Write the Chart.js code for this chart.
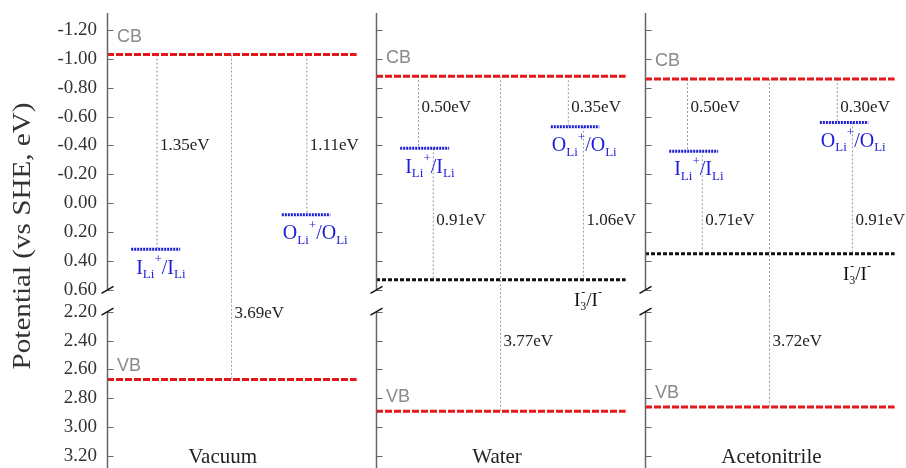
<!DOCTYPE html>
<html><head><meta charset="utf-8">
<script src="https://cdn.jsdelivr.net/npm/chart.js@4.4.1/dist/chart.umd.min.js"></script>
<style>
html,body{margin:0;padding:0;background:#fff;overflow:hidden;width:906px;height:468px}
#wrap{position:absolute;left:0;top:0;width:920px;height:481px}
</style></head><body>
<div id="wrap"><canvas id="c" width="920" height="481"></canvas></div>
<script>
// ---------------- data ----------------
const panels = ['Vacuum', 'Water', 'Acetonitrile'];
const cbLevels = [-1.03, -0.88, -0.86];        // conduction band (eV vs SHE)
const vbLevels = [2.67, 2.89, 2.86];           // valence band
const iLevels = [0.32, -0.38, -0.36];          // I_Li+/I_Li
const oLevels = [0.08, -0.53, -0.56];          // O_Li+/O_Li
const redoxLevels = [null, 0.53, 0.35];        // I3-/I-
const gapCbVb = ['3.69eV', '3.77eV', '3.72eV'];
const gapCbI = ['1.35eV', '0.50eV', '0.50eV'];
const gapCbO = ['1.11eV', '0.35eV', '0.30eV'];
const gapIRedox = [null, '0.91eV', '0.71eV'];
const gapORedox = [null, '1.06eV', '0.91eV'];
const upperTickValues = [-1.2, -1.0, -0.8, -0.6, -0.4, -0.2, 0.0, 0.2, 0.4, 0.6];
const lowerTickValues = [2.2, 2.4, 2.6, 2.8, 3.0, 3.2];
const axisTitle = 'Potential (vs SHE, eV)';

// ---------------- layout (positions / styles) ----------------
const TOP_MIN = -1.318, TOP_MAX = 0.676;   // upper axis section
const BOT_MIN = 2.124, BOT_MAX = 3.29;     // lower axis section
const BREAK_TOP = 0.6, BREAK_BOT = 2.2;
const PW = 10;                              // x units per panel
const L = {lineEnd: 9.28, iSeg: [0.9, 2.72], oSeg: [6.5, 8.3], vGap: 4.63, redoxLabel: 7.36};
const vCbI = [1.86, 1.58, 1.58], vIR = [null, 2.13, 2.13];
const vCbO = [7.43, 7.15, 7.15], vOR = [null, 7.71, 7.71];
const labelRow1 = [-0.40, -0.66, -0.66], labelRow2 = [null, 0.12, 0.12], labelGapY = [2.21, 2.41, 2.41];
const titleX = [4.3, 4.5, 4.7];
const RED = '#e5171c', BLUE = '#1c1cd6', BLACK = '#111', GRAY = '#9a9a9a', AXIS = '#666';
const SERIF = '"Liberation Serif", "DejaVu Serif", serif';
const SANS = '"Liberation Sans", Arial, sans-serif';

function seg(x0, x1, y0, y1, axis, color, width, dash, order) {
  return {data: [{x: x0, y: y0}, {x: x1, y: y1}], yAxisID: axis, borderColor: color,
    borderWidth: width, borderDash: dash, pointRadius: 0, fill: false, tension: 0, order: order};
}

const datasets = [];
panels.forEach((name, p) => {
  const o = p * PW;
  const cb = cbLevels[p], vb = vbLevels[p], iL = iLevels[p], oL = oLevels[p], rd = redoxLevels[p];
  // vertical gap markers
  datasets.push(seg(o + vCbI[p], o + vCbI[p], cb, iL, 'yTop', GRAY, 1, [2, 2], 3));
  datasets.push(seg(o + vCbO[p], o + vCbO[p], cb, oL, 'yTop', GRAY, 1, [2, 2], 3));
  datasets.push(seg(o + L.vGap, o + L.vGap, cb, TOP_MAX, 'yTop', GRAY, 1, [2, 2], 3));
  datasets.push(seg(o + L.vGap, o + L.vGap, BOT_MIN, vb, 'yBot', GRAY, 1, [2, 2], 3));
  if (rd !== null) {
    datasets.push(seg(o + vIR[p], o + vIR[p], iL, rd, 'yTop', GRAY, 1, [2, 2], 3));
    datasets.push(seg(o + vOR[p], o + vOR[p], oL, rd, 'yTop', GRAY, 1, [2, 2], 3));
  }
  // levels
  datasets.push(seg(o, o + L.lineEnd, cb, cb, 'yTop', RED, 3, [7, 2], 1));
  datasets.push(seg(o, o + L.lineEnd, vb, vb, 'yBot', RED, 3, [7, 2], 1));
  datasets.push(seg(o + L.iSeg[0], o + L.iSeg[1], iL, iL, 'yTop', BLUE, 3, [2, 1], 1));
  datasets.push(seg(o + L.oSeg[0], o + L.oSeg[1], oL, oL, 'yTop', BLUE, 3, [2, 1], 1));
  if (rd !== null) datasets.push(seg(o, o + L.lineEnd, rd, rd, 'yTop', BLACK, 3, [4, 2], 1));
});

function rich(ctx, parts, x, y, size, color) {
  ctx.save();
  ctx.fillStyle = color; ctx.textAlign = 'left'; ctx.textBaseline = 'middle';
  const small = Math.round(size * 0.65);
  let cx = x;
  parts.forEach(([t, k]) => {
    if (k === 'm') { ctx.font = size + 'px ' + SERIF; ctx.fillText(t, cx, y); cx += ctx.measureText(t).width; }
    else if (k === 'b') { ctx.font = small + 'px ' + SERIF; ctx.fillText(t, cx, y + size * 0.32); cx += ctx.measureText(t).width; }
    else if (k === 'p') { ctx.font = small + 'px ' + SERIF; ctx.fillText(t, cx, y - size * 0.42); cx += ctx.measureText(t).width; }
    else if (k === 'bp') {
      ctx.font = small + 'px ' + SERIF;
      ctx.fillText(t[0], cx, y + size * 0.32); ctx.fillText(t[1], cx + 1, y - size * 0.42);
      cx += Math.max(ctx.measureText(t[0]).width, ctx.measureText(t[1]).width);
    }
  });
  ctx.restore();
}

const decor = {
  id: 'decor',
  afterDatasetsDraw(chart) {
    const {ctx, chartArea: ca} = chart;
    const x = chart.scales.x, yT = chart.scales.yTop, yB = chart.scales.yBot;
    ctx.save();
    panels.forEach((n, p) => {
      const ax = Math.round(x.getPixelForValue(p * PW)) + 0.5;
      const b1 = yT.getPixelForValue(BREAK_TOP), b2 = yB.getPixelForValue(BREAK_BOT);
      ctx.strokeStyle = AXIS; ctx.lineWidth = 1.5; ctx.setLineDash([]);
      ctx.beginPath();
      ctx.moveTo(ax, ca.top); ctx.lineTo(ax, b1);
      ctx.moveTo(ax, b2); ctx.lineTo(ax, ca.bottom + 5);
      ctx.stroke();
      ctx.lineWidth = 1.2;
      ctx.beginPath();
      upperTickValues.forEach(v => { const yy = Math.round(yT.getPixelForValue(v)) + 0.5; ctx.moveTo(ax, yy); ctx.lineTo(ax + 6, yy); });
      lowerTickValues.forEach(v => { const yy = Math.round(yB.getPixelForValue(v)) + 0.5; ctx.moveTo(ax, yy); ctx.lineTo(ax + 6, yy); });
      ctx.stroke();
      ctx.strokeStyle = '#111'; ctx.lineWidth = 1.5;
      ctx.beginPath();
      [b1, b2].forEach(yy => { ctx.moveTo(ax - 6, yy + 3.5); ctx.lineTo(ax + 6, yy - 3.5); });
      ctx.stroke();
    });
    const txt = (s, px, py, font, color, align) => {
      ctx.font = font; ctx.fillStyle = color; ctx.textAlign = align || 'left'; ctx.textBaseline = 'middle';
      ctx.fillText(s, px, py);
    };
    const evFont = '17px ' + SERIF;
    panels.forEach((name, p) => {
      const o = p * PW;
      const px = v => x.getPixelForValue(o + v);
      txt('CB', px(0) + 10, yT.getPixelForValue(cbLevels[p]) - 18, '18px ' + SANS, '#8a8a8a');
      txt('VB', px(0) + 10, yB.getPixelForValue(vbLevels[p]) - 14, '18px ' + SANS, '#8a8a8a');
      txt(gapCbI[p], px(vCbI[p]) + 3, yT.getPixelForValue(labelRow1[p]), evFont, '#222');
      txt(gapCbO[p], px(vCbO[p]) + 3, yT.getPixelForValue(labelRow1[p]), evFont, '#222');
      txt(gapCbVb[p], px(L.vGap) + 3, yB.getPixelForValue(labelGapY[p]), evFont, '#222');
      if (redoxLevels[p] !== null) {
        txt(gapIRedox[p], px(vIR[p]) + 3, yT.getPixelForValue(labelRow2[p]), evFont, '#222');
        txt(gapORedox[p], px(vOR[p]) + 3, yT.getPixelForValue(labelRow2[p]), evFont, '#222');
        rich(ctx, [['I', 'm'], [['3', '-'], 'bp'], ['/', 'm'], ['I', 'm'], ['-', 'p']],
          px(L.redoxLabel), yT.getPixelForValue(redoxLevels[p]) + 21, 19, '#111');
      }
      rich(ctx, [['I', 'm'], ['Li', 'b'], ['+', 'p'], ['/', 'm'], ['I', 'm'], ['Li', 'b']],
        px(L.iSeg[0]) + 5, yT.getPixelForValue(iLevels[p]) + 19, 20, BLUE);
      rich(ctx, [['O', 'm'], ['Li', 'b'], ['+', 'p'], ['/', 'm'], ['O', 'm'], ['Li', 'b']],
        px(L.oSeg[0]) + 1, yT.getPixelForValue(oLevels[p]) + 19, 20, BLUE);
      txt(name, px(titleX[p]), ca.bottom - 12, '21px ' + SERIF, '#222', 'center');
    });
    ctx.save();
    ctx.translate(23, 236); ctx.rotate(-Math.PI / 2); ctx.scale(1.12, 1);
    txt(axisTitle, 0, 0, '26px ' + SERIF, '#333', 'center');
    ctx.restore();
    ctx.restore();
  }
};

const tickCommon = {color: '#333', font: {family: SERIF, size: 19}, padding: 0, autoSkip: false,
  callback: v => Number(v).toFixed(2)};
const fit = s => { s.width = 107; };

new Chart(document.getElementById('c'), {
  type: 'line',
  data: {datasets},
  options: {
    responsive: false, animation: false, devicePixelRatio: 1,
    layout: {padding: {left: 0, top: 13, right: 6, bottom: 12}},
    plugins: {legend: {display: false}, tooltip: {enabled: false}},
    scales: {
      x: {type: 'linear', display: false, min: 0, max: 3 * PW},
      yBot: {type: 'linear', position: 'left', stack: 'v', stackWeight: BOT_MAX - BOT_MIN, reverse: true,
        min: BOT_MIN, max: BOT_MAX, grid: {display: false, drawTicks: true, tickLength: 10},
        border: {display: false}, ticks: tickCommon,
        afterBuildTicks: s => { s.ticks = lowerTickValues.map(v => ({value: v})); }, afterFit: fit},
      yTop: {type: 'linear', position: 'left', stack: 'v', stackWeight: TOP_MAX - TOP_MIN, reverse: true,
        min: TOP_MIN, max: TOP_MAX, grid: {display: false, drawTicks: true, tickLength: 10},
        border: {display: false}, ticks: tickCommon,
        afterBuildTicks: s => { s.ticks = upperTickValues.map(v => ({value: v})); }, afterFit: fit}
    }
  },
  plugins: [decor]
});
</script>
</body></html>
